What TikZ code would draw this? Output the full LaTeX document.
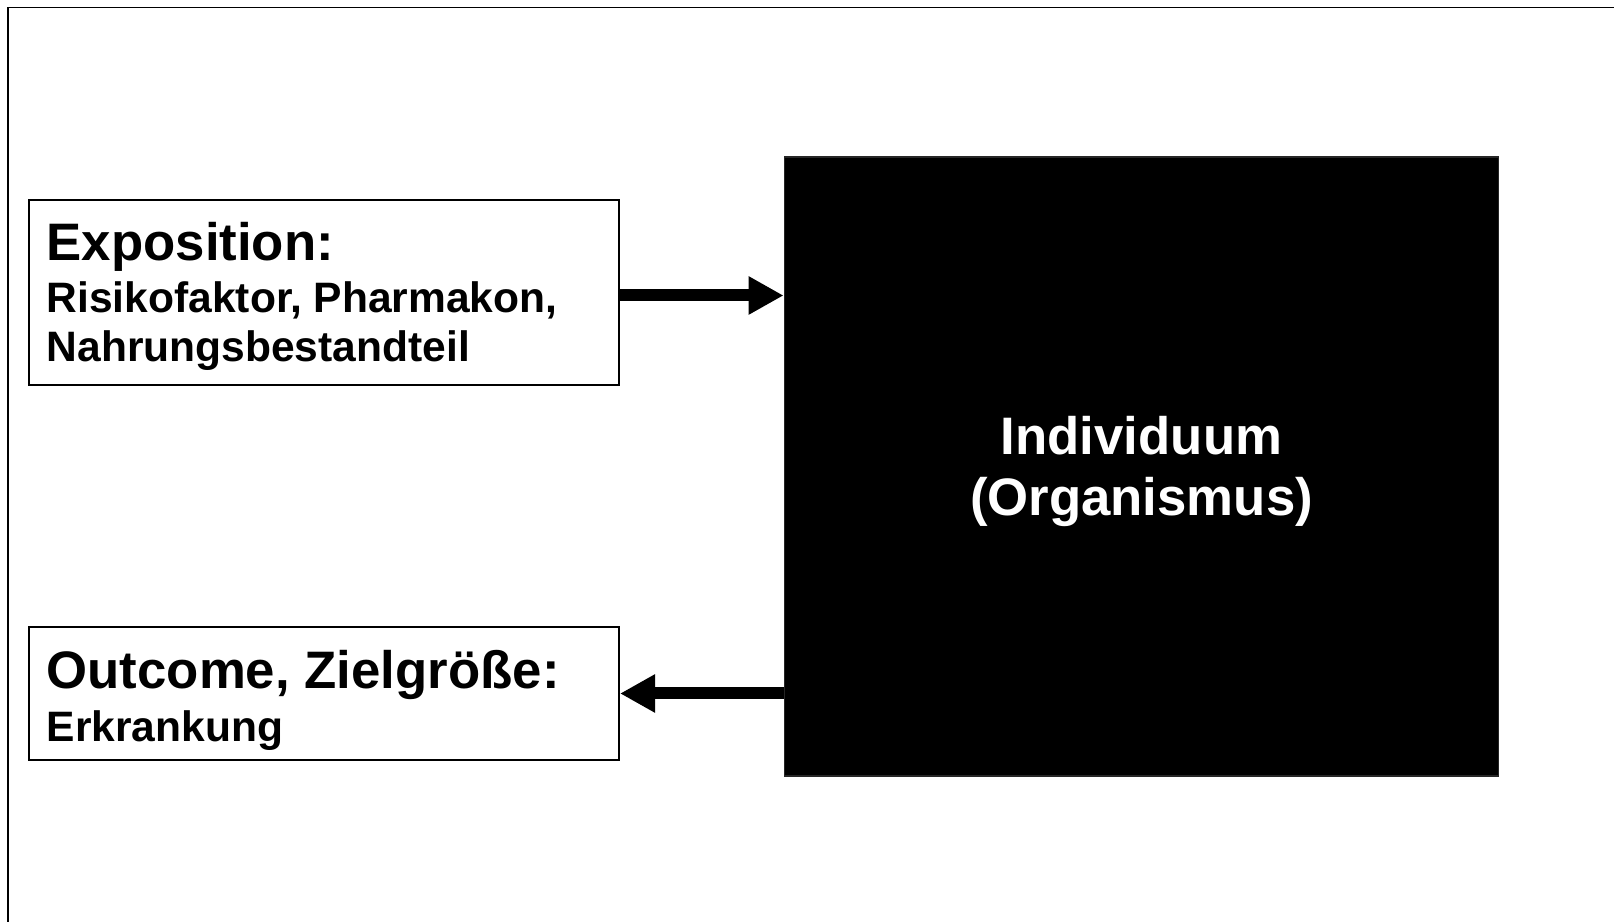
\documentclass[tikz,border=0pt]{standalone}
\usepackage{fontspec}
\setmainfont{Liberation Sans}
\usetikzlibrary{arrows.meta}
\tikzset{
  bigtxt/.style={font=\fontsize{15}{18}\selectfont\bfseries, inner sep=0pt, anchor=base west},
  smalltxt/.style={font=\fontsize{12.1}{14.5}\selectfont\bfseries, inner sep=0pt, anchor=base west},
  whitetxt/.style={font=\fontsize{15}{18}\selectfont\bfseries, text=white, inner sep=0pt, anchor=base},
  wbox/.style={draw=black, line width=0.5pt, fill=white, inner sep=0pt},
  bbox/.style={draw=black!85, line width=0.4pt, fill=black, inner sep=0pt},
  arr/.style={line width=0.12cm, -{Triangle[length=0.35cm, width=0.36cm]}},
}
\begin{document}
\begin{tikzpicture}[x=0.01cm, y=0.01cm]
\useasboundingbox (0,0) rectangle (1614,-922);
\begin{scope}
  \clip (0,0) rectangle (1614,-922);
  \draw[line width=0.55pt] (8.3,-7.5) rectangle (1700,-1000);
\end{scope}
\node[wbox, minimum width=5.895cm, minimum height=1.85cm] (expbox) at (324.25,-292.5) {};
\node[wbox, minimum width=5.895cm, minimum height=1.33cm] (outbox) at (324.25,-693.5) {};
\node[bbox, minimum width=7.135cm, minimum height=6.19cm] (indiv) at (1141.25,-466.5) {};
\node[bigtxt] (t1) at (46,-261) {Exposition:};
\node[smalltxt] (t2) at (46,-313) {Risikofaktor, Pharmakon,};
\node[smalltxt] (t3) at (46,-362) {Nahrungsbestandteil};
\node[bigtxt] (t4) at (46,-689) {Outcome, Zielgröße:};
\node[smalltxt] (t5) at (46,-742) {Erkrankung};
\node[whitetxt] (t6) at (1141.5,-455) {Individuum};
\node[whitetxt] (t7) at (1141.5,-516) {(Organismus)};
\draw[arr] ([yshift=-0.03cm]expbox.east) -- ([yshift=-0.03cm]expbox.east -| indiv.west);
\draw[arr] (outbox.east -| indiv.west) -- (outbox.east);
\end{tikzpicture}
\end{document}
